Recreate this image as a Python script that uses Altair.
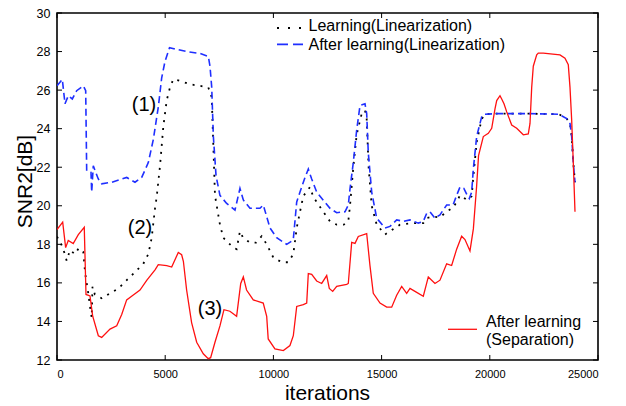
import altair as alt
import pandas as pd

# ---- data ----
sep_x = [0, 263, 400, 520, 750, 985, 1260, 1340, 1525, 1650, 1910, 2065, 2450, 2760, 2990, 3220,
         3525, 3835, 4145, 4530, 4680, 5070, 5300, 5605, 5760, 5840, 5990, 6220, 6455, 6760, 6990,
         7100, 7300, 7530, 7715, 7990, 8300, 8490, 8610, 8760, 9070, 9530, 9690, 9760, 10070, 10460,
         10765, 10920, 11077, 11382, 11539, 11613, 11770, 12000, 12232, 12463, 12583, 12740, 12925,
         13387, 13461, 13618, 13771, 13923, 14311, 14464, 14616, 14926, 15235, 15466, 15697, 15928,
         16159, 16312, 16543, 16927, 17158, 17467, 17698, 18006, 18237, 18468, 18699, 18853, 19084,
         19240, 19390, 19480, 19700, 19931, 20088, 20240, 20319, 20471, 20550, 20656, 20781, 21012,
         21243, 21548, 21779, 21858, 21936, 22010, 22167, 22241, 22472, 23243, 23474, 23627, 23706,
         23784, 23858, 23937]
sep_y = [18.76, 19.15, 17.83, 18.2, 18.04, 18.5, 18.88, 15.4, 15.32, 14.27, 13.26, 13.17, 13.6, 13.77,
         14.36, 15.12, 15.37, 15.63, 16.13, 16.68, 16.95, 16.9, 16.82, 17.58, 17.46, 17.12, 15.63,
         13.94, 12.92, 12.32, 12.07, 12.12, 12.92, 13.77, 14.61, 14.53, 14.27, 15.97, 16.31, 15.63,
         15.12, 14.95, 14.27, 13.09, 12.58, 12.49, 12.75, 13.26, 14.78, 14.87, 14.95, 16.48, 16.44,
         16.1, 15.97, 16.38, 15.71, 15.56, 15.82, 15.92, 15.97, 18.1, 18.05, 18.41, 18.56, 16.88,
         15.46, 14.95, 14.74, 14.74, 15.36, 15.82, 15.46, 15.71, 15.56, 15.31, 16.31, 15.97, 16.14,
         16.99, 16.9, 17.75, 18.42, 18.25, 17.66, 18.8, 21.0, 22.6, 23.59, 23.76, 24.02, 25.03,
         25.46, 25.71, 25.54, 25.29, 24.87, 24.19, 24.02, 23.68, 23.73, 24.27, 26.14, 27.24, 27.83,
         27.92, 27.92, 27.83, 27.66, 27.32, 26.14, 24.44, 22.24, 19.69]

after_x = [0, 245, 370, 522, 707, 910, 1215, 1326, 1372, 1571, 1603, 1677, 1908, 2066, 2528, 3221,
           3604, 3914, 4219, 4450, 4681, 4838, 4991, 5200, 5400, 5993, 6608, 6992, 7070, 7150, 7225,
           7350, 7530, 7840, 8225, 8455, 8610, 8918, 9380, 9533, 9843, 10152, 10614, 10845, 10920,
           11077, 11229, 11460, 11613, 11770, 12000, 12306, 12615, 12925, 13308, 13461, 13540,
           13692, 13849, 14002, 14233, 14311, 14385, 14542, 14773, 15157, 15388, 15697, 16002,
           16312, 16696, 16927, 17084, 17236, 17467, 17698, 18006, 18300, 18468, 18622, 18800,
           18961, 19053, 19162, 19238, 19393, 19624, 19778, 20319, 21858, 23200, 23553, 23706,
           23784, 23858, 23937]
after_y = [26.22, 26.56, 25.29, 25.71, 25.54, 25.97, 26.22, 25.97, 21.81, 21.73, 20.71, 22.07, 21.39,
           21.14, 21.22, 21.47, 21.22, 21.47, 22.24, 23.43, 25.12, 26.64, 27.49, 28.2, 28.15, 28.0,
           27.9, 27.75, 27.24, 26.14, 23.6, 21.56, 20.54, 20.12, 19.78, 20.9, 20.3, 19.87, 19.87,
           20.04, 18.85, 18.34, 18.0, 18.17, 18.26, 20.2, 20.71, 21.47, 21.9, 21.39, 20.71, 20.29,
           19.87, 19.64, 19.69, 20.04, 20.88, 22.24, 23.93, 25.2, 25.29, 24.78, 22.75, 20.71, 19.36,
           18.85, 18.93, 19.27, 19.19, 19.27, 19.1, 19.19, 19.61, 19.69, 19.36, 19.53, 20.04, 20.04,
           20.54, 20.97, 20.9, 20.54, 20.38, 20.71, 21.9, 23.59, 24.61, 24.75, 24.78, 24.78, 24.75,
           24.52, 24.27, 23.59, 22.24, 21.22]

learn_x = [0, 200, 337, 448, 600, 832, 1000, 1215, 1300, 1446, 1525, 1603, 1640, 1750, 2066, 2449,
           2833, 3221, 3604, 3988, 4219, 4376, 4529, 4607, 4760, 4912, 5069, 5222, 5374, 5684, 6146,
           6608, 6992, 7100, 7150, 7300, 7530, 7685, 8147, 8300, 8455, 8600, 8918, 9200, 9459, 9690,
           9995, 10383, 10688, 10920, 11077, 11229, 11382, 11690, 11843, 12306, 12615, 12925, 13250,
           13461, 13540, 13692, 13849, 14080, 14233, 14311, 14400, 14542, 14773, 15157, 15388,
           15850, 16466, 16927, 17084, 17390, 17698, 18006, 18300, 18468, 18622, 18961, 19162,
           19238, 19393, 19624, 19778, 20319, 21858, 23200, 23553, 23706, 23784, 23858, 23937]
learn_y = [18.4, 18.0, 17.58, 17.15, 17.7, 17.49, 17.8, 17.6, 16.5, 15.46, 14.78, 14.2, 15.8, 15.4,
           15.2, 15.46, 15.71, 16.14, 16.56, 16.99, 17.49, 18.34, 19.87, 20.46, 22.07, 24.1, 25.46,
           26.14, 26.56, 26.48, 26.3, 26.22, 26.14, 25.8, 25.63, 20.54, 19.02, 18.34, 17.83, 17.75,
           18.68, 18.34, 18.09, 18.09, 18.42, 18.0, 17.32, 17.07, 17.07, 17.49, 18.85, 19.69, 20.5,
           20.97, 20.46, 19.69, 19.19, 19.02, 19.02, 19.19, 20.0, 22.0, 23.7, 24.78, 24.95, 24.5,
           22.0, 20.0, 19.02, 18.51, 18.68, 19.02, 19.1, 19.1, 19.36, 19.44, 19.4, 19.7, 19.9, 20.2,
           20.54, 20.3, 20.5, 21.5, 23.3, 24.5, 24.75, 24.78, 24.78, 24.75, 24.52, 24.27, 23.59,
           22.24, 21.22]

x_ticks = [0, 5000, 10000, 15000, 20000, 25000]
y_ticks = [12, 14, 16, 18, 20, 22, 24, 26, 28, 30]

legend_labels = ["Learning(Linearization)", "After learning(Linearization)",
                 "After learning", "(Separation)"]
note_labels = ["(1)", "(2)", "(3)"]
note_x = [4020, 3835, 7070]
note_y = [25.22, 18.87, 14.65]

# ---- chart ----
W, H = 541, 347
FONT = "Liberation Sans"
BLUE = "#1f2fff"
RED = "#ff1010"

xs = alt.Scale(domain=[0, 25000], nice=False, zero=False)
ys = alt.Scale(domain=[12, 30], nice=False, zero=False)

x_axis = alt.Axis(values=x_ticks, format="d", ticks=False, tickSize=0, domain=False, grid=False,
                  labelFont=FONT, labelFontSize=11, labelColor="black", labelPadding=8,
                  title="iterations", titleFont=FONT, titleFontSize=21, titleFontWeight="normal",
                  titleColor="black", titleX=270, titleY=39, titleBaseline="alphabetic",
                  titleAlign="center", titleAnchor="middle")
y_axis = alt.Axis(values=y_ticks, format="d", ticks=False, tickSize=0, domain=False, grid=False,
                  labelFont=FONT, labelFontSize=12.5, labelColor="black", labelPadding=7,
                  title="SNR2[dB]", titleFont=FONT, titleFontSize=21, titleFontWeight="normal",
                  titleColor="black", titleAngle=270, titleX=-32, titleY=168,
                  titleBaseline="middle", titleAlign="center")

df_learn = pd.DataFrame({"x": learn_x, "y": learn_y})
df_after = pd.DataFrame({"x": after_x, "y": after_y})
df_sep = pd.DataFrame({"x": sep_x, "y": sep_y})

X = alt.X("x:Q", scale=xs, axis=x_axis)
Y = alt.Y("y:Q", scale=ys, axis=y_axis)

learn = alt.Chart(df_learn).mark_line(color="black", strokeWidth=1.8, strokeDash=[2, 6],
                                       strokeCap="butt", clip=True).encode(x=X, y=Y)
after = alt.Chart(df_after).mark_line(color=BLUE, strokeWidth=1.6, strokeDash=[7, 4],
                                       clip=True).encode(x=X, y=Y)
sep = alt.Chart(df_sep).mark_line(color=RED, strokeWidth=1.3, clip=True).encode(x=X, y=Y)

# inward ticks on all four sides
df_yt = pd.DataFrame({"y": y_ticks})
df_xt = pd.DataFrame({"x": x_ticks})
tick_l = alt.Chart(df_yt).mark_rule(color="black", strokeWidth=1).encode(
    y=Y, x=alt.value(0), x2=alt.value(5))
tick_r = alt.Chart(df_yt).mark_rule(color="black", strokeWidth=1).encode(
    y=Y, x=alt.value(W), x2=alt.value(W - 5))
tick_b = alt.Chart(df_xt).mark_rule(color="black", strokeWidth=1).encode(
    x=X, y=alt.value(H), y2=alt.value(H - 5))
tick_t = alt.Chart(df_xt).mark_rule(color="black", strokeWidth=1).encode(
    x=X, y=alt.value(0), y2=alt.value(5))

# annotations (1) (2) (3)
df_notes = pd.DataFrame({"t": note_labels, "x": note_x, "y": note_y})
notes = alt.Chart(df_notes).mark_text(font=FONT, fontSize=20, color="black", align="center",
                                      baseline="middle").encode(x=X, y=Y, text="t:N")

# legends
def leg_text(label, x, y):
    return alt.Chart(pd.DataFrame({"t": [label]})).mark_text(
        font=FONT, fontSize=16, color="black", align="left", baseline="alphabetic").encode(
        x=alt.value(x), y=alt.value(y), text="t:N")

def leg_line(x1, x2, y, color, width, dash=None):
    kw = dict(color=color, strokeWidth=width)
    if dash is not None:
        kw["strokeDash"] = dash
    return alt.Chart(pd.DataFrame({"k": [0]})).mark_rule(**kw).encode(
        x=alt.value(x1), x2=alt.value(x2), y=alt.value(y))

legend = [
    leg_line(220, 246, 15, "black", 1.8, [2, 9]),
    leg_text(legend_labels[0], 251.5, 18.3),
    leg_line(220, 246, 31.4, BLUE, 1.6, [11, 5]),
    leg_text(legend_labels[1], 251.5, 36.5),
    leg_line(391, 420, 316.3, RED, 1.3),
    leg_text(legend_labels[2], 429, 314),
    leg_text(legend_labels[3], 429, 332),
]

chart = alt.layer(learn, after, sep, tick_l, tick_r, tick_b, tick_t, notes, *legend).properties(
    width=W, height=H,
    padding={"left": 49, "top": 5, "right": 20, "bottom": 44},
    autosize=alt.AutoSizeParams(type="none"),
    background="white",
).configure_view(stroke="black", strokeWidth=1.6)

chart.save("out.html", embed_options={"renderer": "svg", "actions": False})
